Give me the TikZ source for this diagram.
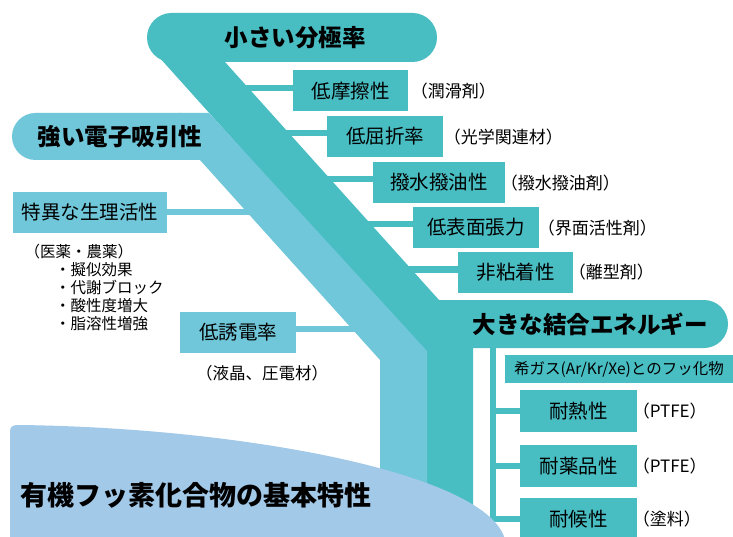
\documentclass[tikz,border=0pt]{standalone}
\usepackage{fontspec}
\setmainfont{Noto Sans CJK JP}
\definecolor{dk}{RGB}{72,189,194}
\definecolor{lt}{RGB}{112,199,217}
\definecolor{bs}{RGB}{163,201,233}
\tikzset{
 dbox/.style={fill=dk, inner sep=0pt, minimum height=41pt, font=\fontsize{19.5}{19.5}\selectfont},
 lbox/.style={fill=lt, inner sep=0pt, minimum height=41pt, font=\fontsize{19.5}{19.5}\selectfont},
 lab/.style={anchor=west, inner sep=0pt, font=\fontsize{17}{17}\selectfont},
 slab/.style={anchor=west, inner sep=0pt, font=\fontsize{15.5}{15.5}\selectfont},
 head/.style={inner sep=0pt, font=\bfseries\fontsize{23.5}{23.5}\selectfont},
 dconn/.style={draw=dk, line width=6pt},
 lconn/.style={draw=lt, line width=6pt},
}
\begin{document}
\begin{tikzpicture}[x=1pt,y=-1pt]
\useasboundingbox[fill=white] (0,0) rectangle (733,537);
% dark boxes (upper right)
\node[dbox, minimum width=115pt] (b1) at (350.5,91) {低摩擦性};
\node[dbox, minimum width=116pt] (b2) at (385,136.5) {低屈折率};
\node[dbox, minimum width=132pt] (b3) at (439,182.5) {撥水撥油性};
\node[dbox, minimum width=126pt] (b4) at (476,227.5) {低表面張力};
\node[dbox, minimum width=115pt] (b5) at (515.5,272.5) {非粘着性};
\node[lab] (l1) at (410.6,91) {（潤滑剤）};
\node[lab] (l2) at (443.6,137) {（光学関連材）};
\node[lab] (l3) at (500.6,183) {（撥水撥油剤）};
\node[lab] (l4) at (537.6,228) {（界面活性剤）};
\node[lab] (l5) at (568.6,272) {（離型剤）};
% dark boxes (lower right)
\node[dbox, minimum width=228pt, minimum height=28pt, font=\fontsize{15.5}{15.5}\selectfont] (r0) at (619,369) {希ガス(Ar/Kr/Xe)とのフッ化物};
\node[dbox, minimum width=117pt, minimum height=42pt] (r1) at (578.5,411) {耐熱性};
\node[dbox, minimum width=117pt, minimum height=42pt] (r2) at (578.5,466) {耐薬品性};
\node[dbox, minimum width=117pt, minimum height=42pt] (r3) at (578.5,519) {耐候性};
\node[lab] (p1) at (632.6,411) {（PTFE）};
\node[lab] (p2) at (632.6,466) {（PTFE）};
\node[lab] (p3) at (632.6,519) {（塗料）};
% light boxes (left)
\node[lbox, minimum width=154pt] (g1) at (90,212.5) {特異な生理活性};
\node[lbox, minimum width=116pt] (g2) at (238,332.5) {低誘電率};
\node[slab] (m0) at (24.5,252) {（医薬・農薬）};
\node[slab, align=left, font=\fontsize{15.5}{17.8}\selectfont] (m1) at (55,296.5) {・擬似効果\\・代謝ブロック\\・酸性度増大\\・脂溶性増強};
\node[lab, font=\fontsize{16.5}{16.5}\selectfont] (m2) at (196,373) {（液晶、圧電材）};
% connectors
\foreach \b in {b1,b2,b3,b4,b5} \draw[dconn] ([yshift=3pt]\b.west) -- ++(-70,0);
\coordinate (vt) at (493,340);
\coordinate (vb) at (493,522);
\draw[dconn] (vt) -- (vb);
\foreach \r in {r1,r2,r3} \draw[dconn] (\r.west) -- (\r.west -| vt);
\draw[lconn] (g1.east) -- ++(90,0);
\draw[lconn] ([yshift=4pt]g2.east) -- ++(80,0);
% dark band
\fill[dk] (171,37) -- (150,47) -- (427,355.5) -- (427,537) -- (473,537) -- (473,300) -- (439,300) -- (225,62) -- (300,37) -- cycle;
\fill[dk, rounded corners=24.5pt] (147,13) rectangle (437,62);
\fill[dk, rounded corners=24pt] (439,300) rectangle (728,348);
% light band
\fill[lt] (180,113) -- (209,113) -- (427,351) -- (427,537) -- (380,537) -- (380,360) -- (200,160) -- (180,160) -- cycle;
\fill[lt, rounded corners=23.5pt] (12,113) rectangle (205,160);
% base
\fill[bs] (10,540) -- (10,433) .. controls (10,426) and (12,425) .. (20,425) .. controls (250,428) and (490,475) .. (505,540) -- cycle;
% headings
\node[head] (h1) at (295,38) {小さい分極率};
\node[head] (h2) at (120,137) {強い電子吸引性};
\node[head] (h3) at (590,324) {大きな結合エネルギー};
\node[inner sep=0pt, font=\bfseries\fontsize{27}{27}\selectfont] (h4) at (196,495) {有機フッ素化合物の基本特性};
\end{tikzpicture}
\end{document}
